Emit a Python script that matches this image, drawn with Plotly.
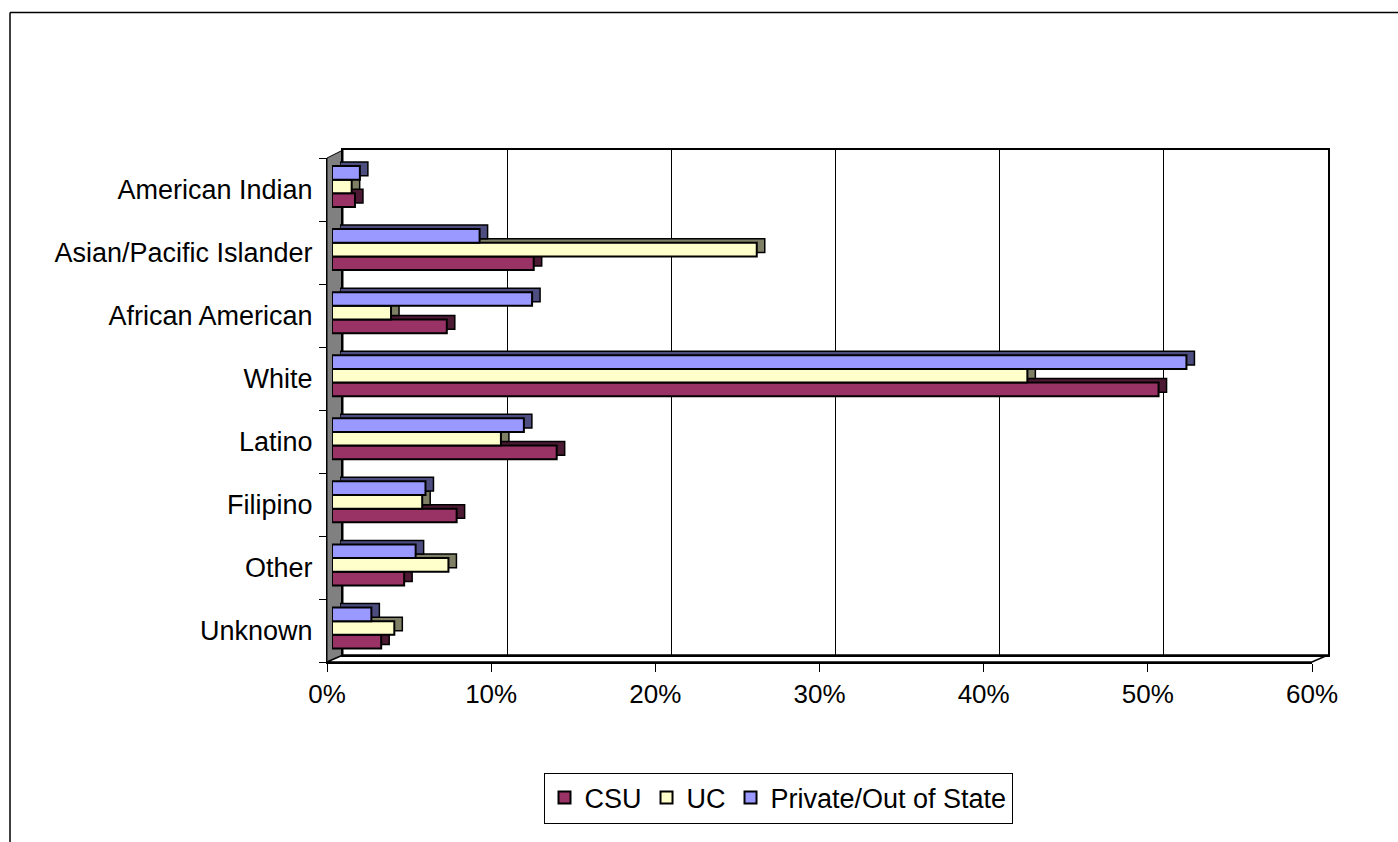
import plotly.graph_objects as go

# ---------------- data ----------------
categories = ["American Indian", "Asian/Pacific Islander", "African American", "White",
              "Latino", "Filipino", "Other", "Unknown"]
csu = [1.4, 12.3, 7.0, 50.4, 13.7, 7.6, 4.4, 3.0]
uc = [1.2, 25.9, 3.6, 42.4, 10.3, 5.5, 7.1, 3.8]
private = [1.7, 9.0, 12.2, 52.1, 11.7, 5.7, 5.1, 2.4]
series_names = ["CSU", "UC", "Private/Out of State"]
x_ticks = [0, 10, 20, 30, 40, 50, 60]
x_tick_labels = ["0%", "10%", "20%", "30%", "40%", "50%", "60%"]

# ---------------- style ----------------
face_colors = ["#993366", "#FFFFCC", "#9999FF"]
side_colors = ["#4D1A33", "#7F7F66", "#4D4D80"]
FONT = "Liberation Sans, Arial, sans-serif"
W, H = 1398, 842


def dx(a, b):
    return [a / W, b / W]


def dy(top, bottom):
    return [1 - bottom / H, 1 - top / H]


def px(x):
    return x / W


def py(y):
    return 1 - y / H


cat_order = categories[::-1]
series_values = [csu, uc, private]

fig = go.Figure()

# back wall (gridlines / frame) helper trace
fig.add_trace(go.Scatter(x=[0] * len(categories), y=categories, mode="markers",
                         marker=dict(opacity=0), hoverinfo="skip", showlegend=False,
                         xaxis="x", yaxis="y"))

# 3D depth (side/top faces) drawn behind
for name, vals, col in zip(series_names, series_values, side_colors):
    fig.add_trace(go.Bar(x=vals, y=categories, orientation="h", name=name,
                         marker=dict(color=col, line=dict(color="black", width=1.5)),
                         showlegend=False, hoverinfo="skip", xaxis="x2", yaxis="y2"))

# front faces
for name, vals, col in zip(series_names, series_values, face_colors):
    fig.add_trace(go.Bar(x=vals, y=categories, orientation="h", name=name,
                         marker=dict(color=col, line=dict(color="black", width=2)),
                         xaxis="x3", yaxis="y3"))

# front-plane axis labels helper trace
fig.add_trace(go.Scatter(x=[0] * len(categories), y=categories, mode="markers",
                         marker=dict(opacity=0), hoverinfo="skip", showlegend=False,
                         xaxis="x4", yaxis="y4"))

cat_axis = dict(type="category", categoryorder="array", categoryarray=cat_order,
                range=[-0.5, len(categories) - 0.5], fixedrange=True, automargin=False)

fig.update_layout(
    width=W, height=H, autosize=False,
    margin=dict(l=0, r=0, t=0, b=0, pad=0, autoexpand=False),
    paper_bgcolor="white", plot_bgcolor="rgba(0,0,0,0)",
    font=dict(family=FONT, size=27, color="black"),
    barmode="group", bargap=0.35, bargroupgap=0,
    showlegend=True,
    legend=dict(orientation="h", x=px(778), y=py(798), xanchor="center", yanchor="middle",
                bordercolor="black", borderwidth=1, bgcolor="white",
                font=dict(family=FONT, size=27), traceorder="normal"),
    xaxis=dict(domain=dx(343, 1328), anchor="y", range=[0, 60], tickvals=x_ticks,
               showgrid=True, gridcolor="black", gridwidth=1, showticklabels=False,
               ticks="", showline=True, linecolor="black", linewidth=2, mirror=True,
               zeroline=False, fixedrange=True, automargin=False),
    yaxis=dict(domain=dy(150, 655), anchor="x", showgrid=False, showticklabels=False,
               ticks="", showline=True, linecolor="black", linewidth=2, mirror=True,
               zeroline=False, **cat_axis),
    xaxis2=dict(domain=dx(340, 1324), anchor="y2", range=[0, 60], visible=False,
                fixedrange=True, automargin=False),
    yaxis2=dict(domain=dy(151, 655.5), anchor="x2", visible=False, **cat_axis),
    xaxis3=dict(domain=dx(332, 1316), anchor="y3", range=[0, 60], visible=False,
                fixedrange=True, automargin=False),
    yaxis3=dict(domain=dy(155, 659.5), anchor="x3", visible=False, **cat_axis),
    xaxis4=dict(domain=dx(327, 1312), anchor="y4", range=[0, 60], tickvals=x_ticks,
                ticktext=x_tick_labels, ticks="outside", ticklen=8, tickcolor="black",
                tickwidth=1, showline=True, linecolor="black", linewidth=1.5,
                showgrid=False, zeroline=False, tickfont=dict(family=FONT, size=26),
                fixedrange=True, automargin=False),
    yaxis4=dict(domain=dy(158, 662), anchor="x4", ticks="outside", tickson="boundaries",
                ticklen=7, tickcolor="black", tickwidth=1, showline=True,
                linecolor="black", linewidth=1, showgrid=False, zeroline=False,
                tickfont=dict(family=FONT, size=27), ticklabelstandoff=8, **cat_axis),
    shapes=[
        # left (side) wall
        dict(type="path", xref="paper", yref="paper", layer="below",
             path=f"M {px(327)},{py(158)} L {px(343)},{py(150)} L {px(343)},{py(655)} L {px(327)},{py(662)} Z",
             fillcolor="#808080", line=dict(color="black", width=1)),
        # floor
        dict(type="path", xref="paper", yref="paper", layer="below",
             path=f"M {px(327)},{py(662)} L {px(343)},{py(655)} L {px(1328)},{py(655)} L {px(1312)},{py(662)} Z",
             fillcolor="white", line=dict(color="black", width=1.5)),
        # outer chart border (top and left visible)
        dict(type="line", xref="paper", yref="paper", x0=px(10), x1=1.0, y0=py(12.5), y1=py(12.5),
             line=dict(color="black", width=1.5)),
        dict(type="line", xref="paper", yref="paper", x0=px(10), x1=px(10), y0=py(12.5), y1=0.0,
             line=dict(color="black", width=1.5)),
    ],
)

fig.write_html("out.html", config={"displayModeBar": False},
               post_script="document.body.style.margin='0';")
